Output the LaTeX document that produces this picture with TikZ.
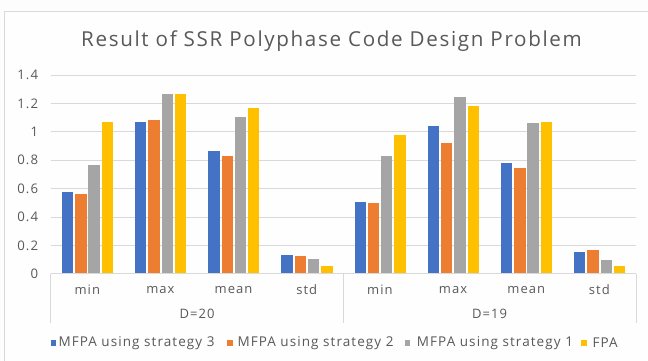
\documentclass[tikz,border=0pt]{standalone}
\usepackage{fontspec}
\setmainfont{Open Sans}
\definecolor{sBlue}{HTML}{4472C4}
\definecolor{sOrange}{HTML}{ED7D31}
\definecolor{sGray}{HTML}{A5A5A5}
\definecolor{sYellow}{HTML}{FFC000}
\definecolor{gridc}{HTML}{D9D9D9}
\definecolor{txt}{HTML}{595959}
\definecolor{bg}{HTML}{FDFDFD}
\newfontfamily\chartfont[LetterSpace=8]{Open Sans}
\tikzset{
  grid line/.style={gridc, line width=0.8pt},
  axis line/.style={gridc, line width=0.8pt},
  bar/.style={draw=white, line width=0.5pt},
  ticklabel/.style={txt, font=\chartfont\fontsize{13.2}{15}\selectfont, anchor=east, inner sep=0pt},
  catlabel/.style={txt, font=\chartfont\fontsize{13}{15}\selectfont, inner sep=0pt},
  legtext/.style={txt, font=\chartfont\fontsize{13.5}{15}\selectfont, anchor=west, inner sep=0pt},
  legmark/.style={minimum size=5.6pt, inner sep=0pt},
}
\begin{document}
\begin{tikzpicture}[x=1pt, y=-1pt]
  \useasboundingbox (0,0) rectangle (648,361);
  % chart frame
  \fill[bg] (0,0) rectangle (648,361);
  \draw[gridc, line width=0.8pt, fill=white!60!bg] (4,11) rectangle (660,370);
  % title
  \node[txt, font=\chartfont\fontsize{20.6}{23}\selectfont, inner sep=0pt, anchor=base west] (title) at (81,46.7) {Result of SSR Polyphase Code Design Problem};
  % value grid and tick labels
  \foreach \v in {0.2, 0.4, 0.6, 0.8, 1.0, 1.2, 1.4} {
    \draw[grid line] (50.7, 273.7-141.9*\v) -- (636, 273.7-141.9*\v);
  }
  \foreach \v/\lab in {0/0, 0.2/0.2, 0.4/0.4, 0.6/0.6, 0.8/0.8, 1.0/1, 1.2/1.2, 1.4/1.4} {
    \node[ticklabel] at (38.3, 273.7-141.9*\v) {\lab};
  }
  % bars: category index, then the four series values
  \foreach \c/\a/\b/\g/\y in {
      0/0.574/0.557/0.761/1.064,
      1/1.064/1.081/1.268/1.268,
      2/0.865/0.829/1.102/1.163,
      3/0.130/0.123/0.101/0.056,
      4/0.503/0.496/0.825/0.975,
      5/1.041/0.919/1.247/1.182,
      6/0.778/0.743/1.060/1.064,
      7/0.151/0.162/0.094/0.049} {
    \pgfmathsetmacro\cx{50.7+73.16*\c+36.58}
    \fill[bar, sBlue]   (\cx-19.9-5.2, 273.7) rectangle (\cx-19.9+5.2, 273.7-141.9*\a);
    \fill[bar, sOrange] (\cx-6.6-5.2, 273.7)  rectangle (\cx-6.6+5.2, 273.7-141.9*\b);
    \fill[bar, sGray]   (\cx+6.6-5.2, 273.7)  rectangle (\cx+6.6+5.2, 273.7-141.9*\g);
    \fill[bar, sYellow] (\cx+19.9-5.2, 273.7) rectangle (\cx+19.9+5.2, 273.7-141.9*\y);
  }
  % category axis
  \draw[axis line] (50.7,273.7) -- (636,273.7);
  \foreach \xx in {50.7, 343.3, 636} {
    \draw[axis line] (\xx,273.7) -- (\xx,322.7);
  }
  \foreach \c/\lab in {0/min, 1/max, 2/mean, 3/std, 4/min, 5/max, 6/mean, 7/std} {
    \node[catlabel] at (50.7+73.16*\c+36.58, 290) {\lab};
  }
  \node[catlabel] (d20) at (197, 314) {D=20};
  \node[catlabel] (d19) at (489.6, 314) {D=19};
  % legend
  \node[legmark, fill=sBlue]   (m1) at (53.4,342.7) {};
  \node[legtext] (l1) at (58.3,342.7) {MFPA using strategy 3};
  \node[legmark, fill=sOrange] (m2) at (230,342.7) {};
  \node[legtext] (l2) at (237.3,342.7) {MFPA using strategy 2};
  \node[legmark, fill=sGray]   (m3) at (407.5,342.7) {};
  \node[legtext] (l3) at (416.7,342.7) {MFPA using strategy 1};
  \node[legmark, fill=sYellow] (m4) at (583.7,342.7) {};
  \node[legtext] (l4) at (592.3,342.7) {FPA};
\end{tikzpicture}
\end{document}
